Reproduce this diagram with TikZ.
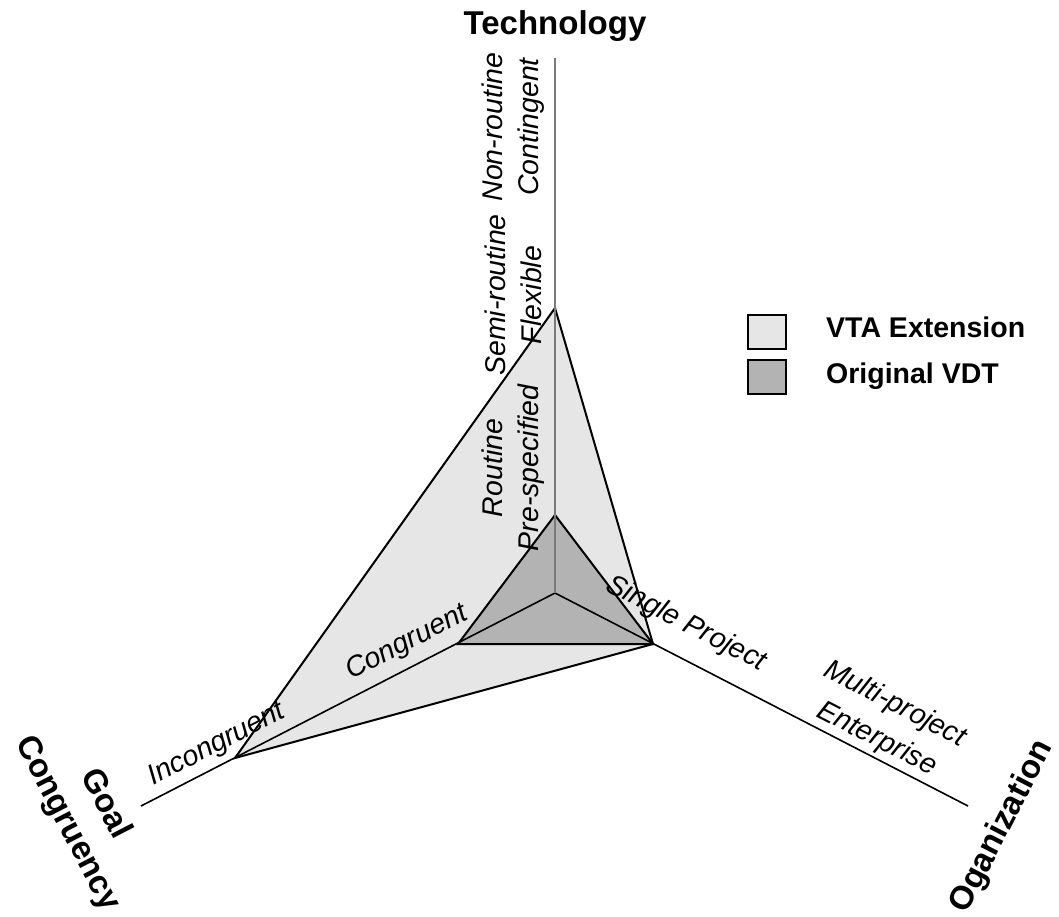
\documentclass[tikz,border=0pt]{standalone}
\usepackage{fontspec}
\setmainfont{Liberation Sans}
\definecolor{vtafill}{HTML}{E6E6E6}
\definecolor{vdtfill}{HTML}{B3B3B3}
\definecolor{axisgray}{HTML}{7A7A7A}
\begin{document}
\begin{tikzpicture}[x=1pt,y=-1pt,
  axisline/.style={line width=1.6pt},
  techaxis/.style={line width=2pt, draw=axisgray},
  region/.style={line width=2pt, line join=miter},
  ticklabel/.style={font=\itshape\fontsize{28.5}{36}\selectfont, align=center, inner sep=0pt},
  axistitle/.style={font=\bfseries\fontsize{33}{43}\selectfont, align=center, inner sep=0pt},
  legendtext/.style={font=\bfseries\fontsize{28.5}{34}\selectfont, anchor=base west, inner sep=0pt},
  legendbox/.style={draw, line width=2pt, minimum width=38pt, minimum height=34pt, inner sep=0pt}
]
\useasboundingbox (0,0) rectangle (1059,916);

% axis origin, axis ends and region corners
\coordinate (O) at (555,593);
\coordinate (Ttip) at (555,58);
\coordinate (Rtip) at (968,806);
\coordinate (Ltip) at (141,806);
\coordinate (vtaT) at (555,308);
\coordinate (vtaR) at (653,644);
\coordinate (vtaL) at (235,758);
\coordinate (vdtT) at (555,515);
\coordinate (vdtL) at (458,644);

% the two regions
\filldraw[region, fill=vtafill] (vtaT) -- (vtaR) -- (vtaL) -- cycle;
\filldraw[region, fill=vdtfill] (vdtT) -- (vtaR) -- (vdtL) -- cycle;

% axes
\draw[axisline] (O) -- (Rtip);
\draw[axisline] (O) -- (Ltip);
\draw[techaxis] (O) -- (Ttip);

% tick labels along the axes
\node[ticklabel, rotate=90] (nonroutine) at (513,127) {Non-routine\\Contingent};
\node[ticklabel, rotate=90] (semiroutine) at (513,295) {Semi-routine\\Flexible};
\node[ticklabel, rotate=90] (routine) at (513,468) {Routine\\Pre-specified};
\node[ticklabel, rotate=-27.3] (single) at (686,624) {Single Project};
\node[ticklabel, rotate=-27.3] (multi) at (886,722) {Multi-project\\[3pt]Enterprise};
\node[ticklabel, rotate=27.3] (congruent) at (407,643) {Congruent};
\node[ticklabel, rotate=27.3] (incongruent) at (217,745) {Incongruent};

% axis titles
\node[axistitle] (tech) at (555,26.5) {Technology};
\node[axistitle, rotate=-62.7] (goal) at (86,814) {Goal\\Congruency};
\node[axistitle, rotate=62.7] (org) at (1002,827) {Oganization};

% legend
\node[legendbox, fill=vtafill] (vtabox) at (767,332) {};
\node[legendbox, fill=vdtfill] (vdtbox) at (767,377) {};
\node[legendtext] (vtatext) at (826,337) {VTA Extension};
\node[legendtext] (vdttext) at (826,383) {Original VDT};
\end{tikzpicture}
\end{document}
